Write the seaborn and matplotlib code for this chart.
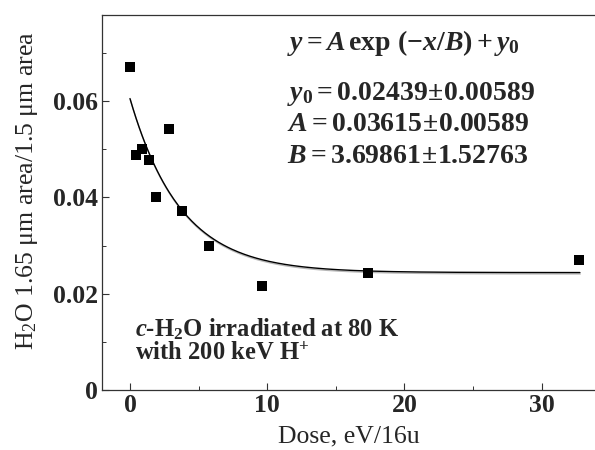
import numpy as np
import pandas as pd
import matplotlib
matplotlib.use("Agg")
import matplotlib.pyplot as plt
import matplotlib.patheffects as pe
import seaborn as sns

# ---- data ----
dose = [0.0, 0.42, 0.9, 1.41, 1.9, 2.85, 3.82, 5.74, 9.64, 17.37, 32.7]
ratio = [0.0671, 0.0489, 0.0501, 0.0477, 0.0401, 0.0543, 0.0371, 0.0299, 0.0215, 0.0243, 0.0270]

# fit parameters printed on the chart
fit_y0 = 0.02439
fit_A = 0.03615
fit_B = 3.69861
fit_x_max = 32.8

x_ticks = [0, 10, 20, 30]
y_ticks = [0, 0.02, 0.04, 0.06]
y_tick_labels = ["0", "0.02", "0.04", "0.06"]

sns.set_theme(style="ticks")
plt.rcParams["font.family"] = ["Liberation Serif", "DejaVu Serif"]
plt.rcParams["mathtext.fontset"] = "custom"
plt.rcParams["mathtext.rm"] = "Liberation Serif:bold"
plt.rcParams["mathtext.it"] = "Liberation Serif:italic:bold"
plt.rcParams["mathtext.bf"] = "Liberation Serif:bold"

fig = plt.figure(figsize=(5.95, 4.5), dpi=100)
ax = fig.add_axes([102 / 595, 60 / 450, 493 / 595, 375.5 / 450])

df = pd.DataFrame({"dose": dose, "ratio": ratio})
xf = np.linspace(0, fit_x_max, 300)
fit_df = pd.DataFrame({"dose": xf, "ratio": fit_A * np.exp(-xf / fit_B) + fit_y0})

sns.lineplot(data=fit_df, x="dose", y="ratio", ax=ax, color="black", linewidth=1.0,
             path_effects=[pe.SimpleLineShadow(offset=(0.3, -1.0), shadow_color="#888888", alpha=0.6),
                           pe.Normal()])
sns.scatterplot(data=df, x="dose", y="ratio", ax=ax, marker="s", s=44, color="black",
                edgecolor="black", linewidth=0, zorder=3)

ax.set_xlim(-2.04, 33.9)
ax.set_ylim(0, 0.078)
ax.set_xticks(x_ticks)
ax.set_xticks([5, 15, 25], minor=True)
ax.set_yticks(y_ticks)
ax.set_yticklabels(y_tick_labels)
ax.set_yticks([0.01, 0.03, 0.05, 0.07], minor=True)
ax.tick_params(axis="both", which="major", direction="in", length=5, width=0.8,
               color="#333333", labelsize=18.5, pad=3)
ax.tick_params(axis="both", which="minor", direction="in", length=3, width=0.7, color="#333333")
for lab in ax.get_xticklabels() + ax.get_yticklabels():
    lab.set_fontweight("bold")

for side in ["left", "bottom", "top"]:
    ax.spines[side].set_color("#333333")
    ax.spines[side].set_linewidth(0.9)
ax.spines["right"].set_visible(False)

ax.set_xlabel("Dose, eV/16u", fontsize=18.5, labelpad=6)
ax.set_ylabel(r"H$\mathregular{_2}$O 1.65 μm area/1.5 μm area", fontsize=18.5)
ax.yaxis.set_label_coords(-0.126, 0.53)

tf = dict(transform=ax.transAxes, fontsize=20, fontweight="bold", va="baseline", ha="left")
ax.text(0.375, 0.905, r"$y = A\,\mathrm{exp}\ (-x/B) + y_0$", **tf)
ax.text(0.375, 0.772, r"$y_0 = 0.02439\!\pm\!0.00589$", **tf)
ax.text(0.375, 0.690, r"$A = 0.03615\!\pm\!0.00589$", **tf)
ax.text(0.375, 0.605, r"$B = 3.69861\!\pm\!1.52763$", **tf)

af = dict(transform=ax.transAxes, fontsize=17.7, fontweight="bold", va="baseline", ha="left")
ax.text(0.067, 0.142, r"$c$-H$_2$O irradiated at 80 K", **af)
ax.text(0.067, 0.080, r"with 200 keV H$^{+}$", **af)

fig.savefig("out.png", dpi=100)
